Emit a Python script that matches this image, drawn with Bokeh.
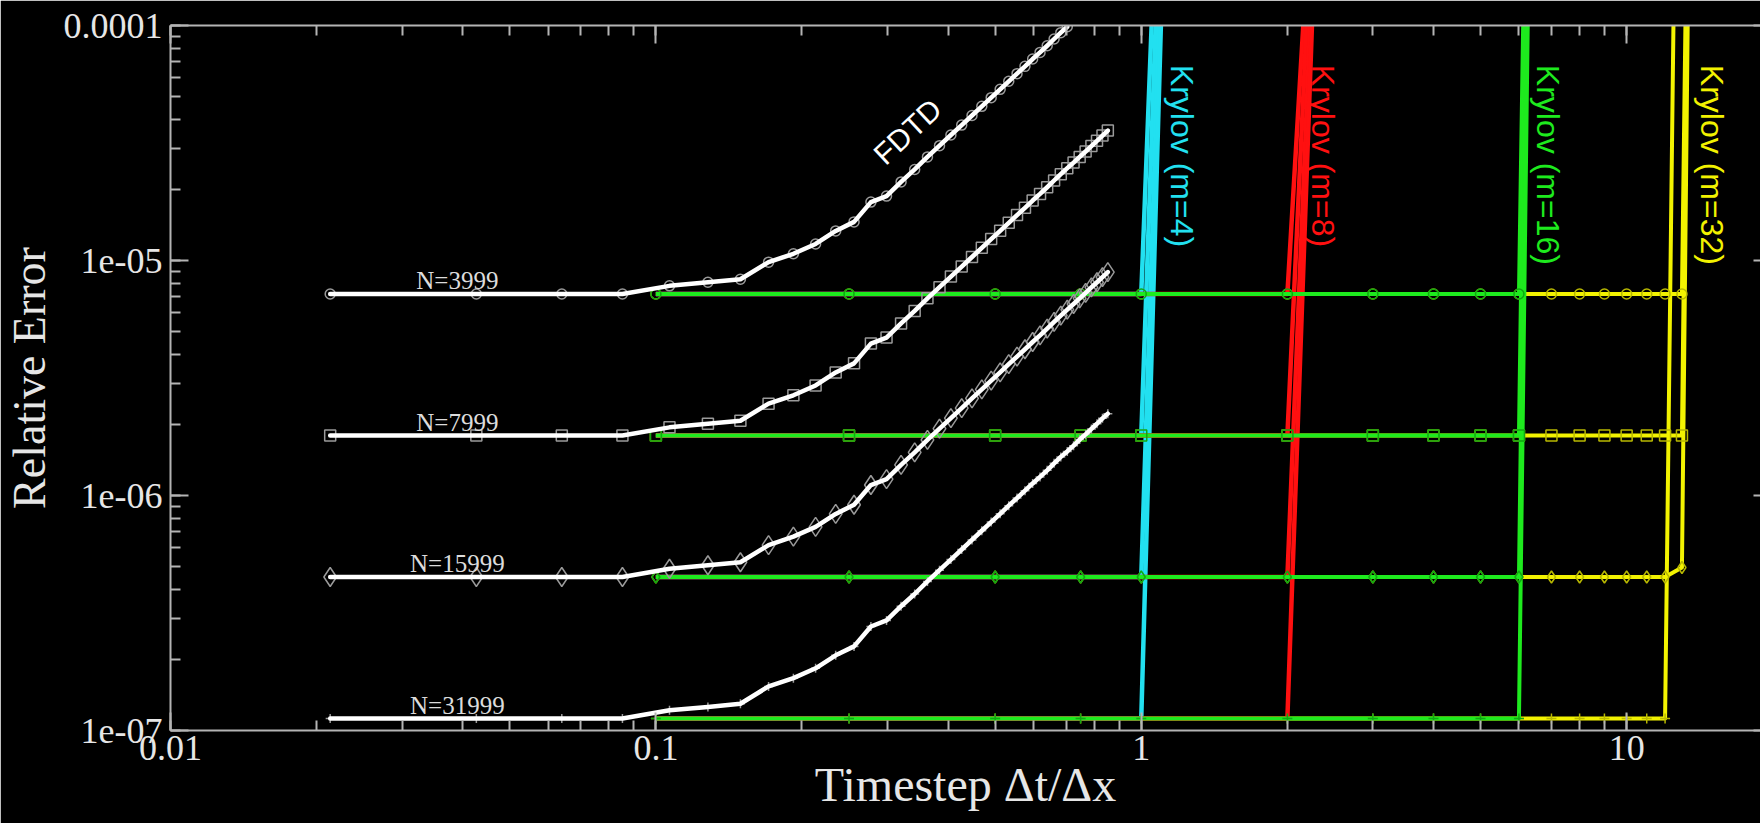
from math import pi

from bokeh.core.properties import value
from bokeh.embed import file_html
from bokeh.models import CustomJSTickFormatter, LogAxis, LogTicker
from bokeh.plotting import figure
from bokeh.resources import INLINE

# ---------------------------------------------------------------- data
# FDTD time steps (dt/dx)
fdtd_dt = [0.02133, 0.04267, 0.06400, 0.08533, 0.10667, 0.12800, 0.14933, 0.17067,
           0.19200, 0.21333, 0.23467, 0.25600, 0.27733, 0.29867, 0.32000, 0.34133,
           0.36267, 0.38400, 0.40533, 0.42667, 0.44800, 0.46933, 0.49067, 0.51200,
           0.53333, 0.55467, 0.57600, 0.59733, 0.61867, 0.64000, 0.66133, 0.68267,
           0.70400, 0.72533, 0.74667, 0.76800, 0.78933, 0.81067, 0.83200, 0.85333]

# FDTD relative error, one list per grid size
fdtd_n3999 = [7.2e-6, 7.2e-6, 7.2e-6, 7.2e-6, 7.8e-6, 8.08e-6, 8.32e-6, 9.84e-6,
              1.068e-5, 1.176e-5, 1.336e-5, 1.46e-5, 1.772e-5, 1.88e-5, 2.16e-5, 2.44e-5,
              2.76e-5, 3.08e-5, 3.42e-5, 3.77e-5, 4.14e-5, 4.53e-5, 4.93e-5, 5.35e-5,
              5.79e-5, 6.24e-5, 6.70e-5, 7.20e-5, 7.68e-5, 8.20e-5, 8.76e-5, 9.32e-5,
              9.88e-5]
fdtd_n7999 = [1.8e-6, 1.8e-6, 1.8e-6, 1.8e-6, 1.95e-6, 2.02e-6, 2.08e-6, 2.46e-6,
              2.67e-6, 2.94e-6, 3.34e-6, 3.65e-6, 4.43e-6, 4.70e-6, 5.40e-6, 6.10e-6,
              6.90e-6, 7.70e-6, 8.54e-6, 9.42e-6, 1.035e-5, 1.132e-5, 1.233e-5, 1.337e-5,
              1.447e-5, 1.56e-5, 1.676e-5, 1.80e-5, 1.92e-5, 2.05e-5, 2.19e-5, 2.33e-5,
              2.47e-5, 2.61e-5, 2.76e-5, 2.91e-5, 3.07e-5, 3.23e-5, 3.40e-5, 3.57e-5]
fdtd_n15999 = [4.5e-7, 4.5e-7, 4.5e-7, 4.5e-7, 4.88e-7, 5.05e-7, 5.2e-7, 6.15e-7,
               6.68e-7, 7.35e-7, 8.35e-7, 9.13e-7, 1.108e-6, 1.175e-6, 1.35e-6, 1.525e-6,
               1.725e-6, 1.925e-6, 2.135e-6, 2.355e-6, 2.59e-6, 2.83e-6, 3.08e-6, 3.34e-6,
               3.62e-6, 3.90e-6, 4.19e-6, 4.50e-6, 4.80e-6, 5.13e-6, 5.48e-6, 5.83e-6,
               6.18e-6, 6.53e-6, 6.90e-6, 7.28e-6, 7.68e-6, 8.08e-6, 8.50e-6, 8.93e-6]
fdtd_n31999 = [1.125e-7, 1.125e-7, 1.125e-7, 1.125e-7, 1.22e-7, 1.26e-7, 1.30e-7, 1.54e-7,
               1.67e-7, 1.84e-7, 2.09e-7, 2.28e-7, 2.77e-7, 2.94e-7, 3.38e-7, 3.81e-7,
               4.31e-7, 4.81e-7, 5.34e-7, 5.89e-7, 6.47e-7, 7.08e-7, 7.71e-7, 8.36e-7,
               9.05e-7, 9.75e-7, 1.048e-6, 1.125e-6, 1.20e-6, 1.28e-6, 1.37e-6, 1.46e-6,
               1.54e-6, 1.63e-6, 1.73e-6, 1.82e-6, 1.92e-6, 2.02e-6, 2.13e-6, 2.23e-6]

grid_names = ["N=3999", "N=7999", "N=15999", "N=31999"]
grid_levels = [7.2e-6, 1.8e-6, 4.5e-7, 1.125e-7]

# Krylov time steps
krylov_dt = [0.1, 0.25, 0.5, 0.75, 1, 2, 3, 4, 5, 6, 7, 8, 9, 10, 11, 12, 13, 14]

# Krylov relative error; the last entry of each list is the first unstable step
krylov_m4 = [
    [7.2e-6, 7.2e-6, 7.2e-6, 7.2e-6, 7.2e-6, 1e11],
    [1.8e-6, 1.8e-6, 1.8e-6, 1.8e-6, 1.8e-6, 1e12],
    [4.5e-7, 4.5e-7, 4.5e-7, 4.5e-7, 4.5e-7, 1e13],
    [1.125e-7, 1.125e-7, 1.125e-7, 1.125e-7, 1.125e-7, 1e15],
]
krylov_m8 = [
    [7.2e-6, 7.2e-6, 7.2e-6, 7.2e-6, 7.2e-6, 7.2e-6, 1e1],
    [1.8e-6, 1.8e-6, 1.8e-6, 1.8e-6, 1.8e-6, 1.8e-6, 1e2],
    [4.5e-7, 4.5e-7, 4.5e-7, 4.5e-7, 4.5e-7, 4.5e-7, 3e2],
    [1.125e-7, 1.125e-7, 1.125e-7, 1.125e-7, 1.125e-7, 1.125e-7, 2e3],
]
krylov_m16 = [
    [7.2e-6, 7.2e-6, 7.2e-6, 7.2e-6, 7.2e-6, 7.2e-6, 7.2e-6, 7.2e-6, 7.2e-6, 7.2e-6, 5e3],
    [1.8e-6, 1.8e-6, 1.8e-6, 1.8e-6, 1.8e-6, 1.8e-6, 1.8e-6, 1.8e-6, 1.8e-6, 1.8e-6, 8e3],
    [4.5e-7, 4.5e-7, 4.5e-7, 4.5e-7, 4.5e-7, 4.5e-7, 4.5e-7, 4.5e-7, 4.5e-7, 4.5e-7, 1e4],
    [1.125e-7, 1.125e-7, 1.125e-7, 1.125e-7, 1.125e-7, 1.125e-7, 1.125e-7, 1.125e-7,
     1.125e-7, 1.125e-7, 1e4],
]
krylov_m32 = [
    [7.2e-6, 7.2e-6, 7.2e-6, 7.2e-6, 7.2e-6, 7.2e-6, 7.2e-6, 7.2e-6, 7.2e-6, 7.2e-6,
     7.2e-6, 7.2e-6, 7.2e-6, 7.2e-6, 7.2e-6, 7.2e-6, 7.2e-6, 1.0],
    [1.8e-6, 1.8e-6, 1.8e-6, 1.8e-6, 1.8e-6, 1.8e-6, 1.8e-6, 1.8e-6, 1.8e-6, 1.8e-6,
     1.8e-6, 1.8e-6, 1.8e-6, 1.8e-6, 1.8e-6, 1.8e-6, 1.8e-6, 1.0],
    [4.5e-7, 4.5e-7, 4.5e-7, 4.5e-7, 4.5e-7, 4.5e-7, 4.5e-7, 4.5e-7, 4.5e-7, 4.5e-7,
     4.5e-7, 4.5e-7, 4.5e-7, 4.5e-7, 4.5e-7, 4.5e-7, 4.94e-7, 1.0],
    [1.125e-7, 1.125e-7, 1.125e-7, 1.125e-7, 1.125e-7, 1.125e-7, 1.125e-7, 1.125e-7,
     1.125e-7, 1.125e-7, 1.125e-7, 1.125e-7, 1.125e-7, 1.125e-7, 1.125e-7, 1.125e-7, 0.1],
]

krylov_names = ["Krylov (m=4)", "Krylov (m=8)", "Krylov (m=16)", "Krylov (m=32)"]
krylov_label_x = [1.214, 2.37, 6.88, 15.0]

# ---------------------------------------------------------------- styling
BG = "black"
AXIS = "#b4b4b4"
TICKTXT = "#e6e6e6"
SERIF = "Liberation Serif"
SANS = "Liberation Sans"

markers = ["circle", "square", "diamond", "cross"]
fdtd_marker_size = [10, 11, 19, 9]
kry_marker_size = [10, 11, 12, 10]

CYAN = "#22e0f0"
RED = "#ff1010"
GREEN = "#1eea1e"
YELLOW = "#f2f200"

p = figure(width=1760, height=823, x_axis_type="log", y_axis_type="log",
           x_range=(0.01, 18.87), y_range=(1e-7, 1e-4),
           output_backend="svg", toolbar_location=None,
           min_border_left=168, min_border_right=0, min_border_top=25, min_border_bottom=93)
p.background_fill_color = BG
p.border_fill_color = BG
p.outline_line_color = None
p.xgrid.visible = False
p.ygrid.visible = False

xfmt = CustomJSTickFormatter(code="""
    const e = Math.round(Math.log10(tick));
    return e < 0 ? tick.toFixed(-e) : tick.toFixed(0);
""")
yfmt = CustomJSTickFormatter(code="""
    const e = Math.round(Math.log10(tick));
    if (e >= -4) return tick.toFixed(-e);
    return "1e-" + String(-e).padStart(2, "0");
""")
blankfmt = CustomJSTickFormatter(code="return ' ';")


def style_axis(ax, labels=True):
    ax.ticker = LogTicker(num_minor_ticks=10)
    ax.axis_line_color = AXIS
    ax.axis_line_width = 2
    ax.major_tick_line_color = AXIS
    ax.minor_tick_line_color = AXIS
    ax.major_tick_line_width = 2
    ax.minor_tick_line_width = 2
    ax.major_tick_in = 18
    ax.major_tick_out = 0
    ax.minor_tick_in = 10
    ax.minor_tick_out = 0
    if labels:
        ax.major_label_text_font = SERIF
        ax.major_label_text_font_size = "36px"
        ax.major_label_text_color = TICKTXT
        ax.axis_label_text_font = SERIF
        ax.axis_label_text_font_size = "46px"
        ax.axis_label_text_font_style = "normal"
        ax.axis_label_text_color = TICKTXT
    else:
        ax.formatter = blankfmt
        ax.major_label_text_font_size = "2px"
        ax.major_label_text_alpha = 0
        ax.major_label_standoff = 0


xax = p.xaxis[0]
style_axis(xax)
xax.formatter = xfmt
xax.major_label_standoff = 5
xax.axis_label = "Timestep \u0394t/\u0394x"
xax.axis_label_text_font_size = "48px"
xax.axis_label_standoff = -5

yax = p.yaxis[0]
style_axis(yax)
yax.formatter = yfmt
yax.major_label_standoff = 8
yax.axis_label = "Relative Error"
yax.axis_label_standoff = 6

top = LogAxis()
style_axis(top, labels=False)
p.add_layout(top, "above")

right = LogAxis()
style_axis(right, labels=False)
right.axis_line_color = None
right.major_tick_in = 7
right.minor_tick_in = 0
p.add_layout(right, "right")

# ---------------------------------------------------------------- Krylov curves
def krylov_lines(series, color, width=4):
    for err in series:
        p.line(krylov_dt[:len(err)], err, line_color=color, line_width=width,
               line_join="round")


def krylov_markers(series, color):
    for i, err in enumerate(series):
        p.scatter(krylov_dt[:len(err) - 1], err[:-1], marker=markers[i],
                  size=kry_marker_size[i], fill_color=None, line_color=color,
                  line_width=1.5)


krylov_lines(krylov_m32, YELLOW)
krylov_markers(krylov_m32, "#b8b800")
krylov_lines(krylov_m4, CYAN, 4.5)
krylov_lines(krylov_m8, RED, 4.5)
krylov_lines(krylov_m16, GREEN)
krylov_markers(krylov_m16, "#10a810")

# ---------------------------------------------------------------- FDTD curves
fdtd_series = [fdtd_n3999, fdtd_n7999, fdtd_n15999, fdtd_n31999]
for i, err in enumerate(fdtd_series):
    p.scatter(fdtd_dt[:len(err)], err, marker=markers[i], size=fdtd_marker_size[i],
              fill_color=None, line_color="#9a9a9a", line_width=1.5)
for err in fdtd_series:
    p.line(fdtd_dt[:len(err)], err, line_color="white", line_width=4.5,
           line_join="round", line_cap="round")

# ---------------------------------------------------------------- annotations
# grid-size tags sit just above the flat part of each curve
p.text(x=[0.039] * 4, y=[lv * 1.14 for lv in grid_levels], text=grid_names,
       text_align="center", text_baseline="alphabetic", text_color="#dcdcdc",
       text_font=value(SERIF), text_font_size="25px")

p.text(x=[0.33], y=[3.54e-5], text=["FDTD"], angle=43 * pi / 180,
       text_align="center", text_baseline="middle", text_color="white",
       text_font=value(SANS), text_font_size="30px")

for name, xpos, color in zip(krylov_names, krylov_label_x, [CYAN, RED, GREEN, YELLOW]):
    p.text(x=[xpos], y=[6.8e-5], text=[name], angle=-pi / 2, text_align="left",
           text_baseline="middle", text_color=color, text_font=value(SANS),
           text_font_size="32px")

open("out.html", "w").write(file_html(p, INLINE))
